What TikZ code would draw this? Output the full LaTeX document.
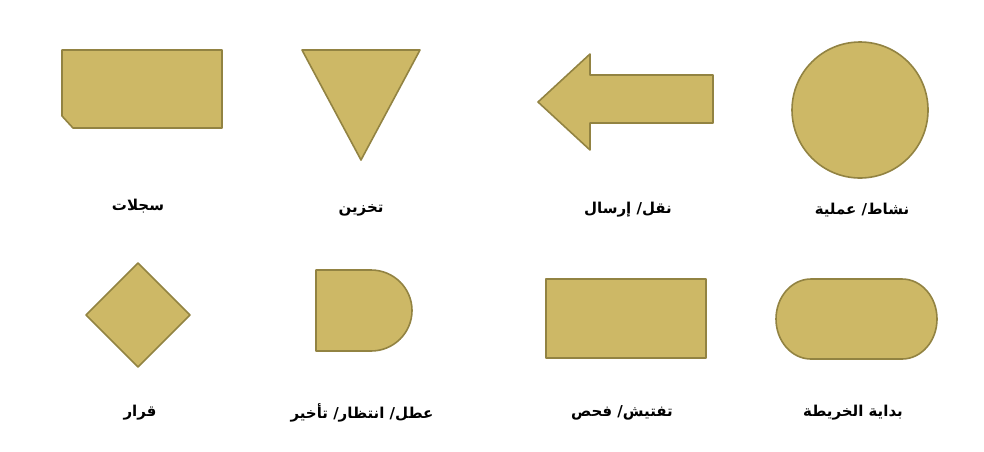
\documentclass[tikz,border=0pt]{standalone}
\usepackage{fontspec}
\newfontfamily\arabicfont[Script=Arabic]{DejaVu Sans}
\TeXXeTstate=1
\definecolor{gold}{RGB}{205,184,102}
\definecolor{golddark}{RGB}{146,131,66}

\begin{document}
\begin{tikzpicture}[x=1pt, y=-1pt,
  shp/.style={fill=gold, draw=golddark, line width=1.6pt, line join=round},
  lbl/.style={font=\arabicfont\bfseries\fontsize{15}{18}\selectfont}]
\useasboundingbox (0,0) rectangle (984,451);
% first row
\draw[shp](62,50)--(222,50)--(222,128)--(73,128)--(62,116)--cycle;
\draw[shp](302,50)--(420,50)--(361,160)--cycle;
\draw[shp](713,75)--(590,75)--(590,54)--(538,102)--(590,150)--(590,123)--(713,123)--cycle;
\draw[shp](860,110) circle (68);
\node[lbl](records) at (138,206){\beginR سجلات\endR};
\node[lbl](storage) at (361,210){\beginR تخزين\endR};
\node[lbl](transport) at (628,210){\beginR نقل/ إرسال\endR};
\node[lbl](operation) at (862,210){\beginR نشاط/ عملية\endR};
% second row
\draw[shp](138,263)--(190,315)--(138,367)--(86,315)--cycle;
\draw[shp](316,270)--(371,270) arc[start angle=-90, end angle=90, x radius=41, y radius=40.5]--(316,351)--cycle;
\draw[shp](546,279) rectangle (706,358);
\draw[shp](811,279)--(902,279) arc[start angle=-90, end angle=90, x radius=35, y radius=40]--(811,359) arc[start angle=90, end angle=270, x radius=35, y radius=40]--cycle;
\node[lbl](decision) at (140,413){\beginR قرار\endR};
\node[lbl](delay) at (362,413){\beginR عطل/ انتظار/ تأخير\endR};
\node[lbl](inspect) at (622,413){\beginR تفتيش/ فحص\endR};
\node[lbl](start) at (853,413){\beginR بداية الخريطة\endR};
\end{tikzpicture}
\end{document}
